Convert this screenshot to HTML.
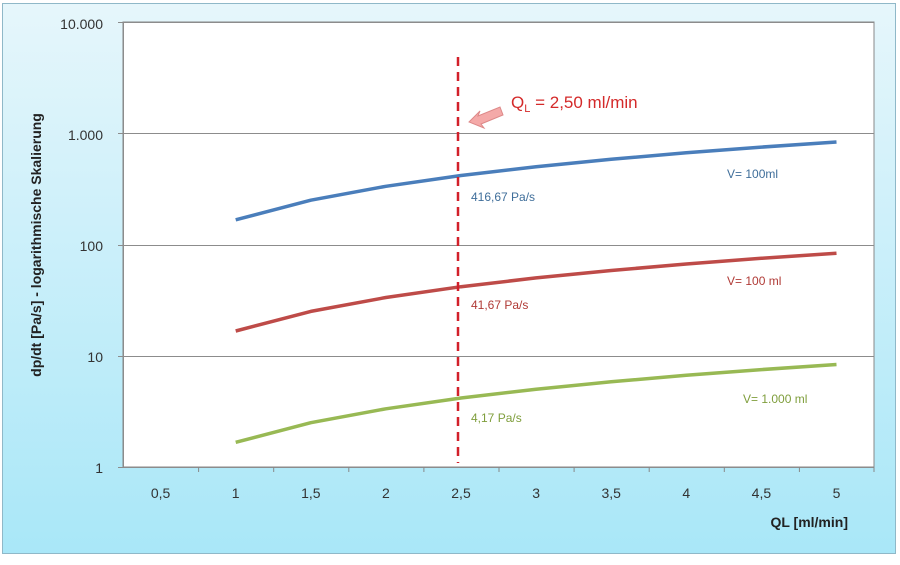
<!DOCTYPE html>
<html><head><style>
body{margin:0;width:900px;height:560px;background:#fff;overflow:hidden}
</style></head><body>
<svg width="900" height="560" xmlns="http://www.w3.org/2000/svg" font-family="Liberation Sans, sans-serif">
<defs>
<linearGradient id="bg" x1="0" y1="0" x2="0" y2="1">
<stop offset="0" stop-color="#e6f6fb"/><stop offset="1" stop-color="#a9e7f8"/>
</linearGradient>
</defs>
<rect x="2.5" y="3.5" width="893" height="550" fill="url(#bg)" stroke="#8fb8c8"/>
<rect x="123" y="22" width="751" height="445" fill="#fff" stroke="#888" stroke-width="1"/>
<g stroke="#8c8c8c" stroke-width="1">
<line x1="118" y1="22.5" x2="874" y2="22.5"/>
<line x1="118" y1="133.5" x2="874" y2="133.5"/>
<line x1="118" y1="245.5" x2="874" y2="245.5"/>
<line x1="118" y1="356.5" x2="874" y2="356.5"/>
<line x1="118" y1="467.5" x2="874" y2="467.5"/>
<line x1="123.5" y1="22" x2="123.5" y2="467"/>
</g>
<g stroke="#888">
<line x1="198.6" y1="467" x2="198.6" y2="472"/><line x1="273.7" y1="467" x2="273.7" y2="472"/>
<line x1="348.8" y1="467" x2="348.8" y2="472"/><line x1="423.9" y1="467" x2="423.9" y2="472"/>
<line x1="499" y1="467" x2="499" y2="472"/><line x1="574.1" y1="467" x2="574.1" y2="472"/>
<line x1="649.2" y1="467" x2="649.2" y2="472"/><line x1="724.3" y1="467" x2="724.3" y2="472"/>
<line x1="799.4" y1="467" x2="799.4" y2="472"/><line x1="874" y1="467" x2="874" y2="472"/>
</g>
<g font-size="14" fill="#333" text-anchor="end">
<text x="103" y="29">10.000</text><text x="103" y="140">1.000</text>
<text x="103" y="251">100</text><text x="103" y="362">10</text><text x="103" y="473">1</text>
</g>
<g font-size="14" fill="#333" text-anchor="middle">
<text x="160.6" y="498">0,5</text><text x="235.7" y="498">1</text><text x="310.8" y="498">1,5</text>
<text x="385.9" y="498">2</text><text x="461" y="498">2,5</text><text x="536.1" y="498">3</text>
<text x="611.2" y="498">3,5</text><text x="686.3" y="498">4</text><text x="761.4" y="498">4,5</text>
<text x="836.5" y="498">5</text>
</g>
<text x="848" y="527" font-size="14" font-weight="bold" fill="#222" text-anchor="end">QL [ml/min]</text>
<text transform="translate(41,245) rotate(-90)" font-size="14" font-weight="bold" fill="#222" text-anchor="middle">dp/dt [Pa/s] - logarithmische Skalierung</text>
<g fill="none" stroke-width="3.5" stroke-linejoin="round">
<polyline stroke="#4a7ebb" points="235.7,219.8 310.8,200.2 385.9,186.3 461,175.5 536.1,166.7 611.2,159.3 686.3,152.8 761.4,147.1 836.5,142"/>
<polyline stroke="#be4b48" points="235.7,331 310.8,311.4 385.9,297.5 461,286.7 536.1,277.9 611.2,270.5 686.3,264 761.4,258.3 836.5,253.2"/>
<polyline stroke="#98b954" points="235.7,442.3 310.8,422.7 385.9,408.8 461,398 536.1,389.2 611.2,381.8 686.3,375.3 761.4,369.6 836.5,364.5"/>
</g>
<line x1="458" y1="57" x2="458" y2="463" stroke="#d2202a" stroke-width="2.5" stroke-dasharray="9,6"/>
<path d="M469,122 L480,111 L478,116 L500,107 L503,115 L481,124 L484,128 Z" fill="#f4a9a8" stroke="#d88" stroke-width="1"/>
<text x="511" y="108" font-size="17" fill="#d42a2a">Q<tspan font-size="11" dy="4">L</tspan><tspan dy="-4"> = 2,50 ml/min</tspan></text>
<g font-size="12">
<text x="471" y="201" fill="#3f6e9a">416,67 Pa/s</text>
<text x="471" y="309" fill="#b03a36">41,67 Pa/s</text>
<text x="471" y="422" fill="#7f9e3c">4,17 Pa/s</text>
<text x="727" y="178" fill="#3f6e9a">V= 100ml</text>
<text x="727" y="285" fill="#b03a36">V= 100 ml</text>
<text x="743" y="403" fill="#7f9e3c">V= 1.000 ml</text>
</g>
</svg>
</body></html>
